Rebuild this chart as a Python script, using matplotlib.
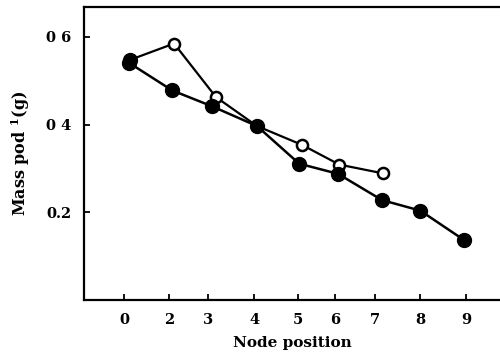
import matplotlib
matplotlib.use("Agg")
import matplotlib.pyplot as plt

# Node tick labels and their positions along the (irregular) x axis
node_labels = ["0", "2", "3", "4", "5", "6", "7", "8", "9"]
node_tick_pos = [0.89, 1.89, 2.76, 3.78, 4.76, 5.58, 6.47, 7.47, 8.49]

# Filled-circle series
filled_x = [1.00, 1.96, 2.84, 3.84, 4.78, 5.64, 6.62, 7.47, 8.44]
filled_y = [0.541, 0.478, 0.442, 0.397, 0.311, 0.288, 0.228, 0.204, 0.137]

# Open-circle series (its first point is printed filled, overlapping)
open_x = [1.03, 2.00, 2.93, 3.84, 4.84, 5.67, 6.64]
open_y = [0.548, 0.585, 0.463, 0.397, 0.354, 0.309, 0.289]

y_ticks = [0.2, 0.4, 0.6]
y_tick_labels = ["0.2", "0 4", "0 6"]

fig = plt.figure(figsize=(5.0, 3.56), dpi=100)
ax = fig.add_axes([0.168, 0.157, 0.832, 0.823])

ax.plot(open_x, open_y, color="black", lw=1.6, marker="o", ms=8,
        mfc="white", mec="black", mew=1.8, zorder=3)
ax.plot(open_x[:1], open_y[:1], ls="none", marker="o", ms=10,
        mfc="black", mec="black", zorder=4)
ax.plot(filled_x, filled_y, color="black", lw=1.8, marker="o", ms=10,
        mfc="black", mec="black", zorder=4)

ax.set_xlim(0, 9.24)
ax.set_ylim(0, 0.668)
ax.set_xticks(node_tick_pos)
ax.set_xticklabels(node_labels)
ax.set_yticks(y_ticks)
ax.set_yticklabels(y_tick_labels)

ax.spines["right"].set_visible(False)
for s in ["left", "top", "bottom"]:
    ax.spines[s].set_linewidth(1.6)

ax.tick_params(axis="both", direction="in", length=4, width=1.3,
               labelsize=10.5, pad=9)
for lab in ax.get_xticklabels() + ax.get_yticklabels():
    lab.set_fontfamily("DejaVu Serif")
    lab.set_fontweight("bold")

ax.set_xlabel("Node position", fontsize=11, family="DejaVu Serif",
              fontweight="bold", labelpad=7)
ax.set_ylabel("Mass pod $^{\\mathregular{1}}$(g)", fontsize=11.5,
              family="DejaVu Serif", fontweight="bold", labelpad=10)

fig.savefig("out.png", dpi=100, facecolor="white")
